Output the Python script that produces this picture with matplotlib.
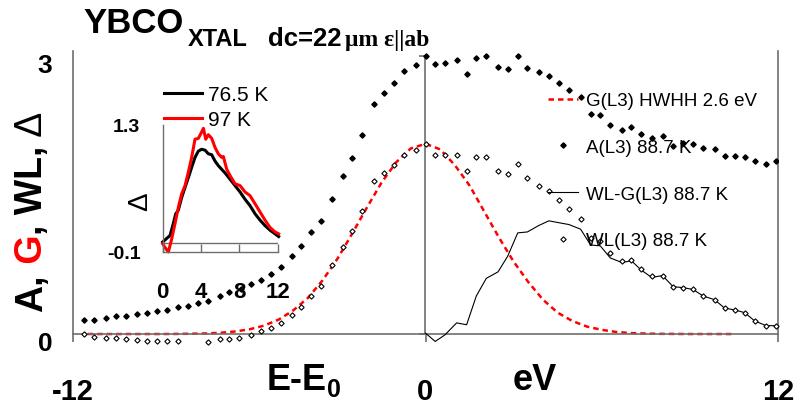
import matplotlib
matplotlib.use('Agg')
import matplotlib.pyplot as plt
import matplotlib.transforms as mtransforms
from matplotlib.lines import Line2D

plt.rcParams['font.family'] = ['Liberation Sans', 'DejaVu Sans']

# A(L3) 88.7 K, filled diamonds
a_x = [-11.63, -11.29, -10.88, -10.54, -10.20, -9.82, -9.48, -9.14, -8.80, -8.43,
       -8.09, -7.75, -7.41, -7.00, -6.70, -6.29, -5.95, -5.61, -5.27, -4.93,
       -4.56, -4.23, -3.89, -3.56, -3.17, -2.81, -2.49, -2.15, -1.76, -1.42,
       -1.08, -0.74, -0.34, 0.0,
       0.33, 0.66, 1.06, 1.40, 1.73, 2.07, 2.47, 2.80, 3.14, 3.47, 3.86, 4.20,
       4.53, 4.88, 5.28, 5.62, 5.95, 6.29, 6.69, 7.01, 7.34, 7.70, 8.07, 8.43,
       8.77, 9.11, 9.45, 9.84, 10.18, 10.52, 10.87, 11.21, 11.60, 11.94]
a_y = [0.15, 0.15, 0.17, 0.195, 0.195, 0.216, 0.227, 0.248, 0.259, 0.29,
       0.30, 0.33, 0.356, 0.41, 0.45, 0.485, 0.54, 0.583, 0.647, 0.72,
       0.84, 0.95, 1.10, 1.22, 1.46, 1.70, 1.90, 2.14, 2.48, 2.60,
       2.70, 2.83, 2.90, 3.00,
       2.91, 2.92, 2.95, 2.80, 2.97, 3.00, 2.88, 2.86, 3.00, 2.87, 2.82, 2.78,
       2.70, 2.63, 2.55, 2.37, 2.36, 2.25, 2.20, 2.23, 2.16, 2.11, 2.13, 2.03,
       2.06, 2.05, 2.00, 1.99, 1.92, 1.92, 1.91, 1.86, 1.83, 1.86]

# WL(L3) 88.7 K, open diamonds
wl_x = [-11.62, -11.28, -10.88, -10.54, -10.20, -9.82, -9.48, -9.14, -8.80, -8.43,
        -7.41, -7.00, -6.70, -6.35, -5.95, -5.61, -5.27, -4.93, -4.56, -4.23,
        -3.89, -3.56, -3.17, -2.81, -2.49, -2.15, -1.76, -1.42, -1.08, -0.74,
        -0.34, 0.0,
        0.33, 0.66, 1.06, 1.40, 1.73, 2.07, 2.47, 2.80, 3.14, 3.47, 3.86, 4.20,
        4.53, 4.88, 5.28, 5.62, 5.95, 6.29, 6.69, 7.01, 7.34, 7.70, 8.07, 8.43,
        8.77, 9.11, 9.45, 9.84, 10.18, 10.52, 10.87, 11.21, 11.60, 11.94]
wl_y = [0.0, -0.03, -0.04, -0.04, -0.05, -0.06, -0.08, -0.08, -0.08, -0.08,
        -0.09, -0.05, -0.05, -0.04, -0.01, 0.03, 0.06, 0.12, 0.20, 0.29,
        0.41, 0.52, 0.74, 0.94, 1.11, 1.33, 1.65, 1.74, 1.82, 1.93,
        1.98, 2.05,
        1.93, 1.93, 1.93, 1.76, 1.91, 1.91, 1.76, 1.72, 1.83, 1.68, 1.60, 1.54,
        1.44, 1.35, 1.24, 1.04, 1.00, 0.87, 0.79, 0.80, 0.70, 0.62, 0.63, 0.51,
        0.50, 0.48, 0.41, 0.37, 0.28, 0.26, 0.23, 0.14, 0.09, 0.09]

# WL-G(L3) 88.7 K, thin line
wlg_x = [0.0, 0.33, 0.66, 1.06, 1.40, 1.73, 2.07, 2.47, 2.80, 3.14, 3.47, 3.86,
         4.20, 4.53, 4.88, 5.28, 5.62, 5.95, 6.29, 6.69, 7.01, 7.34, 7.70, 8.07,
         8.43, 8.77, 9.11, 9.45, 9.84, 10.18, 10.52, 10.87, 11.21, 11.60, 11.94]
wlg_y = [0.01, -0.08, -0.01, 0.12, 0.10, 0.41, 0.60, 0.67, 0.84, 1.09, 1.10, 1.17,
         1.22, 1.20, 1.18, 1.13, 0.96, 0.95, 0.82, 0.77, 0.79, 0.69, 0.61, 0.63,
         0.51, 0.50, 0.48, 0.41, 0.37, 0.28, 0.26, 0.23, 0.14, 0.09, 0.09]

# G(L3) HWHH 2.6 eV, red dashed
g_x = [-11.5, -11.0, -10.5, -10.0, -9.5, -9.0, -8.5, -8.0, -7.5, -7.0, -6.5,
       -6.0, -5.5, -5.0, -4.5, -4.0, -3.5, -3.0, -2.5, -2.0, -1.5, -1.0, -0.5,
       0.0, 0.5, 1.0, 1.5, 2.0, 2.5, 3.0, 3.5, 4.0, 4.5, 5.0, 5.5, 6.0, 6.5,
       7.0, 7.5, 8.0, 8.5, 9.0, 9.5, 10.0, 10.5]
g_y = [0.0, 0.0, 0.0, 0.0, 0.0, 0.0, 0.001, 0.003, 0.006, 0.013, 0.027,
       0.05, 0.09, 0.155, 0.255, 0.39, 0.58, 0.81, 1.08, 1.36, 1.63, 1.85, 2.00,
       2.05, 1.99, 1.82, 1.60, 1.32, 1.04, 0.78, 0.56, 0.37, 0.23, 0.14, 0.08,
       0.045, 0.022, 0.01, 0.005, 0.002, 0.001, 0.0, 0.0, 0.0, 0.0]

# inset: Delta at two temperatures
d_x_765 = [0.0, 0.42, 0.76, 1.10, 1.36, 1.63, 1.98, 2.33, 2.68, 3.02, 3.37, 3.72,
           4.07, 4.42, 4.76, 5.11, 5.46, 5.80, 6.15, 6.50, 7.03, 7.55, 8.07, 8.59,
           9.11, 9.64, 10.16, 10.68, 11.20, 11.72, 12.1]
d_y_765 = [0.01, 0.05, 0.08, 0.21, 0.32, 0.36, 0.50, 0.61, 0.72, 0.83, 0.94, 1.01,
           1.03, 1.02, 0.98, 0.97, 0.90, 0.85, 0.81, 0.77, 0.70, 0.63, 0.56, 0.48,
           0.41, 0.32, 0.25, 0.19, 0.14, 0.10, 0.07]
d_x_97 = [0.0, 0.24, 0.59, 0.93, 1.28, 1.63, 1.98, 2.33, 2.68, 3.02, 3.37, 3.72,
          4.07, 4.25, 4.49, 4.76, 5.11, 5.46, 5.80, 6.16, 6.33, 6.68, 7.03, 7.55,
          8.07, 8.59, 9.11, 9.64, 10.16, 10.68, 11.20, 11.72, 12.1]
d_y_97 = [-0.01, -0.05, -0.10, 0.04, 0.21, 0.39, 0.54, 0.63, 0.78, 0.94, 1.14, 1.15,
          1.22, 1.26, 1.14, 1.19, 1.15, 1.05, 0.98, 0.94, 0.95, 0.81, 0.74, 0.65,
          0.63, 0.56, 0.52, 0.43, 0.34, 0.25, 0.17, 0.12, 0.10]

main_xticks = [-12, 0, 12]
main_yticks = [0, 3]
inset_xticks = [0, 4, 8, 12]
inset_yticks = [-0.1, 1.3]

W, H = 809, 406
GRAY = '#6e6e6e'
MS = 2.7


def fx(px):
    return px / W


def fy(py):
    return 1 - py / H


fig = plt.figure(figsize=(W / 100, H / 100), dpi=100)

# main axes
ax = fig.add_axes([fx(73), fy(344.3), fx(778) - fx(73), fy(52) - fy(344.3)])
ax.set_xlim(-12, 12)
ax.set_ylim(-0.1, 3.05)
ax.patch.set_alpha(0)
ax.spines['top'].set_visible(False)
ax.spines['bottom'].set_position(('data', 0))
for s in ['left', 'right', 'bottom']:
    ax.spines[s].set_color(GRAY)
    ax.spines[s].set_linewidth(1.2)
ax.spines['left'].set_bounds(0, 3.05)
ax.spines['right'].set_bounds(0, 3.05)

ax.set_xticks(main_xticks)
ax.set_xticklabels([str(v) for v in main_xticks])
ax.set_yticks(main_yticks)
ax.set_yticklabels([str(v) for v in main_yticks])
ax.tick_params(axis='x', direction='out', length=5.8, width=1.2, color=GRAY,
               labelsize=21, pad=25)
ax.tick_params(axis='y', length=0, labelsize=19, pad=15)
for lab in ax.get_xticklabels() + ax.get_yticklabels():
    lab.set_fontweight('bold')
off = mtransforms.ScaledTranslation(0, -5 / 72, fig.dpi_scale_trans)
for lab in ax.get_yticklabels():
    lab.set_transform(lab.get_transform() + off)

# vertical axis at E-E0 = 0
sec = ax.secondary_yaxis(0.5)
sec.set_alignment('left')
sec.set_yticks(main_yticks)
sec.tick_params(axis='y', direction='out', length=4.5, width=1.2, color=GRAY,
                labelleft=False, labelright=False)
for s in sec.spines.values():
    s.set_color(GRAY)
    s.set_linewidth(1.2)
    s.set_bounds(0, 3)

ax.plot(g_x, g_y, color='red', lw=1.8, dashes=(2.2, 1.6), zorder=2)
ax.plot(wlg_x, wlg_y, color='black', lw=0.8, zorder=3, clip_on=False)
ax.plot(wl_x, wl_y, 'D', ms=MS, mfc='white', mec='black', mew=0.8, ls='none',
        zorder=4, clip_on=False)
ax.plot(a_x, a_y, 'D', ms=MS, color='black', ls='none', zorder=4)

handles = [
    Line2D([], [], color='red', lw=1.8, dashes=(2.2, 1.6)),
    Line2D([], [], marker='D', ms=MS, color='black', ls='none'),
    Line2D([], [], color='black', lw=0.8),
    Line2D([], [], marker='D', ms=MS, mfc='white', mec='black', mew=0.8, ls='none'),
]
labels = ['G(L3) HWHH 2.6 eV', 'A(L3) 88.7 K', 'WL-G(L3) 88.7 K', 'WL(L3) 88.7 K']
ax.legend(handles, labels, loc='upper left', bbox_to_anchor=(fx(548), fy(93)),
          bbox_transform=fig.transFigure, frameon=False, fontsize=13.5,
          handlelength=1.6, handletextpad=0.4, labelspacing=1.58,
          borderpad=0, borderaxespad=0, numpoints=1)

# inset
ins = fig.add_axes([fx(162.7), fy(253), fx(277.7) - fx(162.7), fy(125.7) - fy(253)])
ins.set_xlim(0, 12)
ins.set_ylim(-0.1, 1.3)
ins.patch.set_alpha(0)
ins.spines['top'].set_visible(False)
ins.spines['right'].set_visible(False)
for s in ['left', 'bottom']:
    ins.spines[s].set_color(GRAY)
    ins.spines[s].set_linewidth(1.0)
ins.axhline(0, color=GRAY, lw=1.0, zorder=1)
ins.plot(d_x_765, d_y_765, color='black', lw=2.2, label='76.5 K', clip_on=False)
ins.plot(d_x_97, d_y_97, color='red', lw=2.2, label='97 K', clip_on=False)
ins.set_xticks(inset_xticks)
ins.set_xticklabels([str(v) for v in inset_xticks])
ins.set_yticks(inset_yticks)
ins.set_yticklabels([str(v) for v in inset_yticks])
ins.tick_params(axis='x', direction='in', length=6.1, width=1.0, color=GRAY,
                labelsize=16, pad=21)
ins.tick_params(axis='y', length=0, labelsize=14, pad=16)
for lab in ins.get_xticklabels() + ins.get_yticklabels():
    lab.set_fontweight('bold')
ins.legend(loc='upper left', bbox_to_anchor=(fx(164), fy(86)),
           bbox_transform=fig.transFigure, frameon=False, fontsize=15,
           handlelength=1.8, handletextpad=0.3, labelspacing=0.3,
           borderpad=0, borderaxespad=0)
fig.text(fx(140), fy(202), '\u0394', rotation=90, fontsize=20, ha='center',
         va='center')

# title
fig.text(fx(83), fy(33), 'YBCO', fontsize=25, fontweight='bold', va='baseline')
fig.text(fx(188), fy(45.7), 'XTAL', fontsize=17, fontweight='bold', va='baseline')
fig.text(fx(268), fy(45.7), 'dc=22', fontsize=18.5, fontweight='bold', va='baseline')
fig.text(fx(345), fy(45.7), '\u03bcm \u03b5||ab', fontsize=17, fontweight='bold',
         va='baseline', family=['Liberation Serif', 'DejaVu Serif'])

# x axis labels
fig.text(fx(267), fy(390), 'E-E', fontsize=26, fontweight='bold', va='baseline')
fig.text(fx(327), fy(397), '0', fontsize=18, fontweight='bold', va='baseline')
fig.text(fx(513), fy(390), 'eV', fontsize=26, fontweight='bold', va='baseline')

# y label in pieces, G in red
t = fig.text(fx(14), fy(312), 'A,', rotation=90, fontsize=27, fontweight='bold',
             ha='left', va='bottom')
for s, c, wt in [(' G', 'red', 'bold'), (', WL,', 'black', 'bold'),
                 (' \u0394', 'black', 'normal')]:
    t = ax.annotate(s, xy=(0, 1), xycoords=t, rotation=90, fontsize=27,
                    fontweight=wt, color=c, ha='left', va='bottom',
                    annotation_clip=False)

fig.savefig('out.png', dpi=100)
plt.close(fig)
